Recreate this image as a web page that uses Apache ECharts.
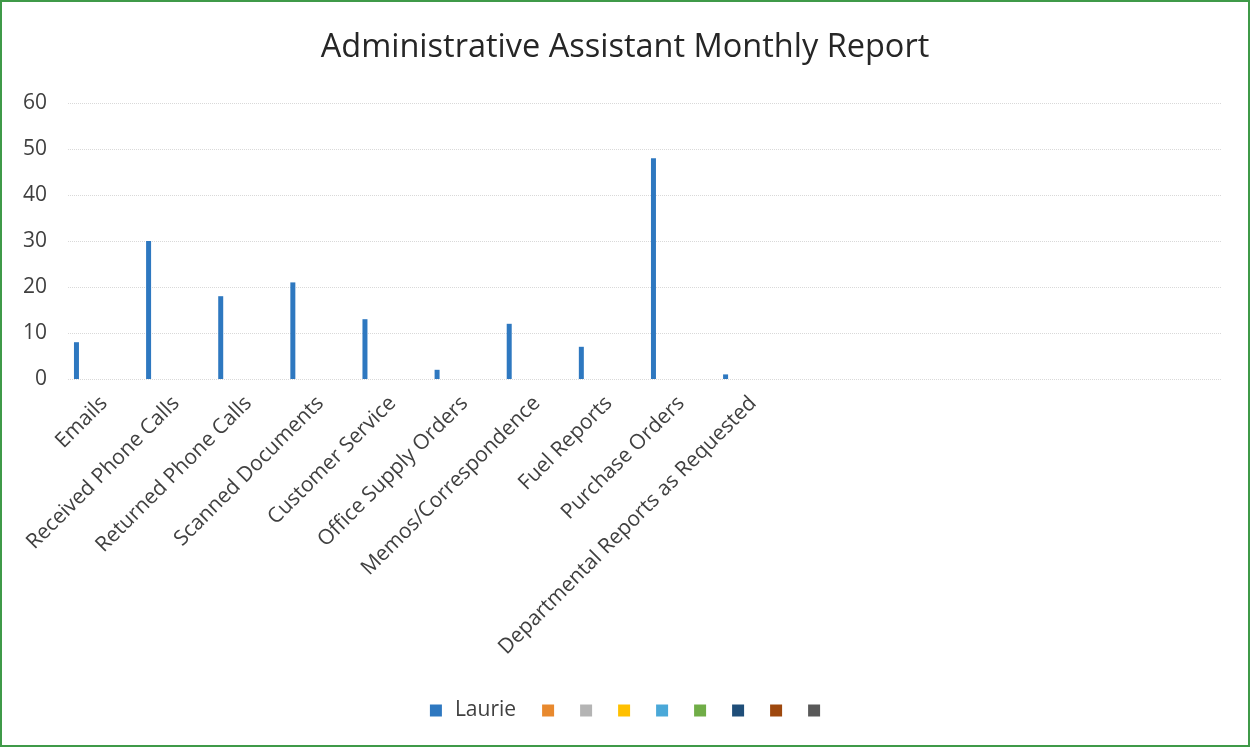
<!DOCTYPE html>
<html>
<head>
<meta charset="utf-8">
<script src="https://cdn.jsdelivr.net/npm/echarts@6/dist/echarts.min.js"></script>
<style>
  html, body { margin: 0; padding: 0; background: #fff; }
  #main { width: 1250px; height: 747px; box-sizing: border-box; border: 2px solid #3f9a48; }
</style>
</head>
<body>
<div id="main"></div>
<script>
// categories (the sheet has 16 rows, the last 6 are blank)
var categories = ['Emails', 'Received Phone Calls', 'Returned Phone Calls', 'Scanned Documents',
  'Customer Service', 'Office Supply Orders', 'Memos/Correspondence', 'Fuel Reports',
  'Purchase Orders', 'Departmental Reports as Requested', '', '', '', '', '', ''];
var laurie = [8, 30, 18, 21, 13, 2, 12, 7, 48, 1];
// other series in the sheet have no name and no values
var seriesNames = ['Laurie', 's2', 's3', 's4', 's5', 's6', 's7', 's8', 's9'];
var seriesColors = ['#2e78c0', '#e8892e', '#b4b4b4', '#ffc000', '#4aa8d8', '#70ad47', '#1f4e79', '#9e480e', '#595959'];
var yTicks = [0, 60, 10];

var myChart = echarts.init(document.getElementById('main'));
var font = '"Open Sans", sans-serif';

var series = seriesNames.map(function(n, i) {
  return {
    name: n,
    type: 'bar',
    data: i === 0 ? laurie : [],
    barWidth: 5,
    barGap: '38%',
    itemStyle: { color: seriesColors[i] }
  };
});

var option = {
  animation: false,
  color: seriesColors,
  title: {
    text: 'Administrative Assistant Monthly Report',
    left: 'center',
    top: 24,
    textStyle: { fontFamily: font, fontSize: 32.5, fontWeight: 'normal', color: '#262626' }
  },
  legend: {
    bottom: 19,
    left: 'center',
    itemWidth: 12,
    itemHeight: 12,
    itemGap: 26,
    icon: 'rect',
    data: seriesNames,
    formatter: function(name) {
      return name === 'Laurie' ? name : '';
    },
    textStyle: { fontFamily: font, fontSize: 21, color: '#404040', padding: [0, -10, 0, 8] }
  },
  grid: { left: 66, right: 26, top: 101, bottom: 366 },
  xAxis: {
    type: 'category',
    data: categories,
    axisLine: { show: false },
    axisTick: { show: false },
    axisLabel: {
      rotate: 45,
      interval: 0,
      margin: 21,
      fontFamily: font,
      fontSize: 21,
      color: '#404040'
    }
  },
  yAxis: {
    type: 'value',
    min: yTicks[0],
    max: yTicks[1],
    interval: yTicks[2],
    axisLine: { show: false },
    axisTick: { show: false },
    axisLabel: { fontFamily: font, fontSize: 21, color: '#404040', margin: 21 },
    splitLine: { lineStyle: { color: '#d9d9d9', type: 'dotted', width: 1 } }
  },
  series: series
};
myChart.setOption(option);
</script>
</body>
</html>
